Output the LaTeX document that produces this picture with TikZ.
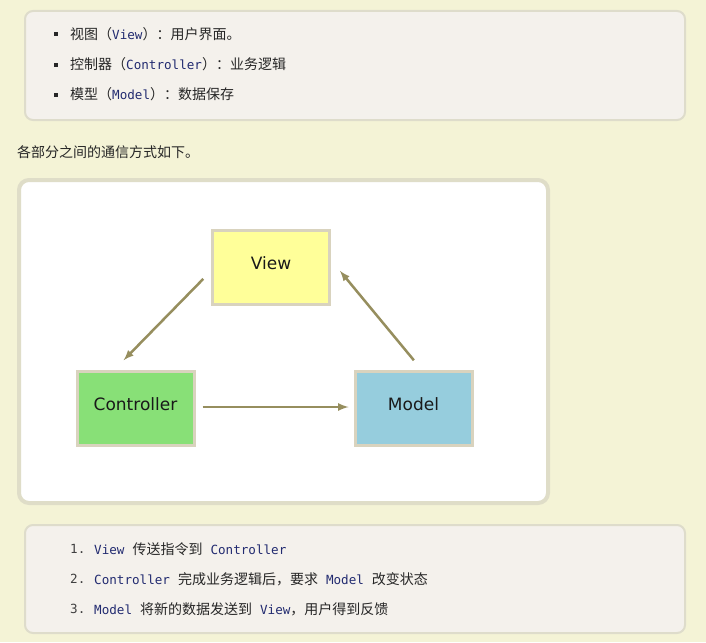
\documentclass[tikz,border=0pt]{standalone}
\usepackage{fontspec}
\setmainfont{Noto Sans CJK SC}
\newfontfamily\codefont{DejaVu Sans Mono}
\newfontfamily\boxfont{DejaVu Sans}
\usetikzlibrary{arrows}

\definecolor{pagebg}{HTML}{F4F3D6}
\definecolor{panelfill}{HTML}{F4F1EC}
\definecolor{paneledge}{HTML}{DEDCCB}
\definecolor{frameedge}{HTML}{DFDDC8}
\definecolor{codeblue}{HTML}{222B70}
\definecolor{boxedge}{HTML}{D9D3BE}
\definecolor{viewfill}{HTML}{FFFF99}
\definecolor{ctrlfill}{HTML}{88E077}
\definecolor{modelfill}{HTML}{96CDDD}
\definecolor{flowcol}{HTML}{968E5E}

\newcommand{\codetxt}[1]{{\codefont\fontsize{12.6}{14}\selectfont\color{codeblue}#1}}
\newcommand{\gap}{\hspace{8pt}}

\tikzset{
  txt/.style={anchor=west, inner sep=0pt, font=\fontsize{14}{16}\selectfont, text=black!85},
  num/.style={anchor=west, inner sep=0pt, font=\codefont\fontsize{12.6}{14}\selectfont, text=black!75},
  panel/.style={draw=paneledge, fill=panelfill, line width=2pt, rounded corners=8pt},
  mvc/.style={draw=boxedge, line width=3pt, minimum width=117pt, minimum height=74pt,
              text depth=8pt, font=\boxfont\fontsize{17}{20}\selectfont, text=black!90},
  flow/.style={draw=flowcol, line width=2.5pt, -latex},
}

\begin{document}
\begin{tikzpicture}[x=1pt, y=-1pt]
\fill [pagebg] (0,0) rectangle (706,642);
\useasboundingbox (0,0) rectangle (706,642);

% top list
\draw [panel] (25,11) rectangle (685,120);
\foreach \yy in {34.5, 64.5, 94.5}
  \fill [black!85] (54,\yy-2) rectangle (58,\yy+2);
\node [txt] (roleview) at (70,34.5) {视图（\codetxt{View}）：用户界面。};
\node [txt] (rolectrl) at (70,64.5) {控制器（\codetxt{Controller}）：业务逻辑};
\node [txt] (rolemodel) at (70,94.5) {模型（\codetxt{Model}）：数据保存};

\node [txt] (intro) at (17,152) {各部分之间的通信方式如下。};

% diagram
\draw [draw=frameedge, fill=white, line width=4pt, rounded corners=10pt] (19,180) rectangle (548,503);
\node [mvc, fill=viewfill] (view) at (271,267) {View};
\node [mvc, fill=ctrlfill] (ctrl) at (135.5,408) {Controller};
\node [mvc, fill=modelfill] (model) at (413.5,408) {Model};

\draw [flow, shorten <=11pt, shorten >=13pt] ([yshift=-4pt]view.west) -- ([xshift=-21pt]ctrl.north);
\draw [flow, shorten <=7pt, shorten >=5pt] ([yshift=1pt]ctrl.east) -- ([yshift=1pt]model.west);
\draw [flow, shorten <=12pt, shorten >=14pt] ([xshift=8pt]model.north) -- ([yshift=7pt]view.east);

% bottom list
\draw [panel] (25,525) rectangle (685,633);
\node [num] (n1) at (70,549) {1.};
\node [num] (n2) at (70,579) {2.};
\node [num] (n3) at (70,609) {3.};
\node [txt] (step1) at (94,549) {\codetxt{View}\gap 传送指令到\gap\codetxt{Controller}};
\node [txt] (step2) at (94,579) {\codetxt{Controller}\gap 完成业务逻辑后，要求\gap\codetxt{Model}\gap 改变状态};
\node [txt] (step3) at (94,609) {\codetxt{Model}\gap 将新的数据发送到\gap\codetxt{View}，用户得到反馈};
\end{tikzpicture}
\end{document}
